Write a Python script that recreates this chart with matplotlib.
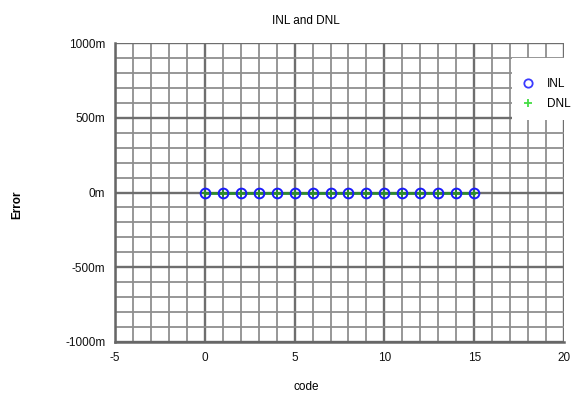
import matplotlib
matplotlib.use("Agg")
import matplotlib.pyplot as plt
from matplotlib.ticker import MultipleLocator, FuncFormatter
from matplotlib.patches import Rectangle
from matplotlib.lines import Line2D

codes = list(range(16))
inl = [0.0] * 16
dnl = [0.0] * 16
series_names = ['INL', 'DNL']

plt.rcParams['font.family'] = ['Liberation Sans', 'DejaVu Sans']
plt.rcParams['axes.unicode_minus'] = False

fig = plt.figure(figsize=(5.88, 3.96), dpi=100)
ax = fig.add_axes([115/588, 1-342/396, (564-115)/588, (342-43)/396])

ax.set_xlim(-5, 20)
ax.set_ylim(-1.0, 1.0)
ax.xaxis.set_major_locator(MultipleLocator(5))
ax.xaxis.set_minor_locator(MultipleLocator(1))
ax.yaxis.set_major_locator(MultipleLocator(0.5))
ax.yaxis.set_minor_locator(MultipleLocator(0.1))
ax.yaxis.set_major_formatter(FuncFormatter(lambda v, p: f"{int(round(v*1000))}m"))

ax.grid(which='major', color='#6e6e6e', linewidth=1.7)
ax.grid(which='minor', color='#8f8f8f', linewidth=1.3)
ax.set_axisbelow(True)
ax.tick_params(which='both', length=0, labelsize=8.5, pad=7, labelcolor='#111111')
for s in ['top', 'right']:
    ax.spines[s].set_visible(False)
for s in ['left', 'bottom']:
    ax.spines[s].set_color('#666666')
    ax.spines[s].set_linewidth(1.8)

ax.plot(codes, dnl, color='#2e8b2e', linewidth=2, marker='+', markersize=7,
        markeredgewidth=1.4, zorder=3)
ax.plot(codes, inl, linestyle='none', marker='o', markersize=7, markerfacecolor='none',
        markeredgecolor='#1a1aff', markeredgewidth=1.4, zorder=4)

fig.patches.append(Rectangle((512/588, 1-120/396), (588-512)/588, 62/396,
                             transform=fig.transFigure, facecolor='white',
                             edgecolor='none', zorder=10))

handles = [
    Line2D([], [], linestyle='none', marker='o', markersize=6, markerfacecolor='none',
           markeredgecolor='#3a3aff', markeredgewidth=1.3),
    Line2D([], [], linestyle='none', marker='+', markersize=6,
           color='#44dd44', markeredgewidth=1.3),
]
leg = fig.legend(handles, series_names, loc='upper left', bbox_to_anchor=(522/588, 1-78/396),
                 frameon=False, fontsize=8.5, handlelength=1.0, handletextpad=1.1,
                 borderpad=0, labelspacing=0.7, borderaxespad=0)
leg.set_zorder(11)

fig.text(306/588, 1-21/396, 'INL and DNL', ha='center', va='center', fontsize=8.5)
fig.text(306/588, 1-387/396, 'code', ha='center', va='center', fontsize=8.5)
fig.text(17/588, 1-205/396, 'Error', ha='center', va='center', fontsize=8.5,
         fontweight='bold', rotation=90)

fig.savefig('out.png', dpi=100)
